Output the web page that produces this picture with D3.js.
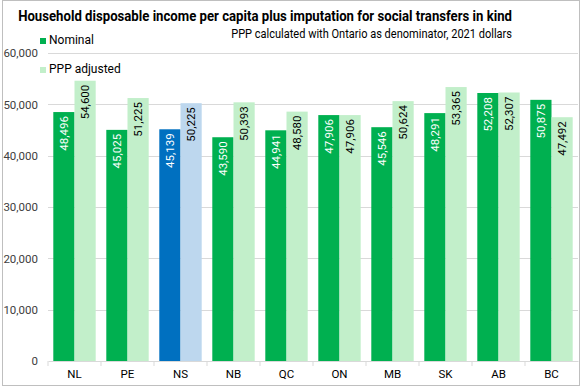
<!DOCTYPE html>
<html>
<head>
<meta charset="utf-8">
<script src="https://cdn.jsdelivr.net/npm/d3@7"></script>
<style>
  body { margin: 0; background: #fff; }
  svg { display: block; font-family: "Roboto", "Liberation Sans", sans-serif; }
</style>
</head>
<body>
<div id="chart"></div>
<script>
'use strict';

var provinces = ["NL", "PE", "NS", "NB", "QC", "ON", "MB", "SK", "AB", "BC"];
var nominal = [48496, 45025, 45139, 43590, 44941, 47906, 45546, 48291, 52208, 50875];
var pppAdjusted = [54600, 51225, 50225, 50393, 48580, 47906, 50624, 53365, 52307, 47492];
var seriesNames = ["Nominal", "PPP adjusted"];
var yTicks = [0, 10000, 20000, 30000, 40000, 50000, 60000];
var highlight = "NS";

var width = 581, height = 387;
var margin = {top: 53, right: 3, bottom: 26, left: 48};
var plotW = width - margin.left - margin.right;
var plotH = height - margin.top - margin.bottom;

var colors = {
    nominal: "#00b050", ppp: "#c2efca",
    nominalHi: "#0070c0", pppHi: "#bdd7ee"
};

var svg = d3.select("#chart").append("svg")
    .attr("width", width)
    .attr("height", height);

// chart border
svg.append("rect")
    .attr("x", 2.5).attr("y", 0.5)
    .attr("width", width - 4).attr("height", height - 2)
    .attr("fill", "#fff")
    .attr("stroke", "#bfbfbf");

// squeeze a text horizontally so it spans the width of the original
function fitText(sel, x, y, w) {
    var tw = sel.node().getComputedTextLength();
    var sx = Math.min(1, w / tw);
    sel.attr("transform", "translate(" + x + "," + y + ") scale(" + sx + ",1)");
}

var title = svg.append("text")
    .attr("text-anchor", "end")
    .attr("font-size", 15)
    .attr("font-weight", "bold")
    .attr("fill", "#000")
    .text("Household disposable income per capita plus imputation for social transfers in kind");
fitText(title, 512, 21, 494);

var subtitle = svg.append("text")
    .attr("text-anchor", "end")
    .attr("font-size", 12)
    .attr("fill", "#000")
    .text("PPP calculated with Ontario as denominator, 2021 dollars");
fitText(subtitle, 512, 38, 281);

var g = svg.append("g")
    .attr("transform", "translate(" + margin.left + "," + margin.top + ")");

var x = d3.scaleBand()
    .domain(provinces)
    .range([0, plotW])
    .paddingInner(0.2)
    .paddingOuter(0.1);

var x1 = d3.scaleBand()
    .domain(seriesNames)
    .range([0, x.bandwidth()]);

var y = d3.scaleLinear()
    .domain([0, 60000])
    .range([plotH, 0]);

// gridlines
g.append("g")
    .selectAll("line")
    .data(yTicks.slice(1))
    .join("line")
    .attr("x1", 0).attr("x2", plotW)
    .attr("y1", function(d) { return Math.round(y(d)) + 0.5; })
    .attr("y2", function(d) { return Math.round(y(d)) + 0.5; })
    .attr("stroke", "#d9d9d9");

var yAxis = g.append("g")
    .call(d3.axisLeft(y).tickValues(yTicks).tickFormat(d3.format(",")).tickSize(0).tickPadding(10));
yAxis.select(".domain").remove();
yAxis.selectAll("text")
    .attr("font-size", 11.5)
    .attr("fill", "#404040")
    .style("font-family", "Roboto, sans-serif");

var data = provinces.map(function(p, i) {
    return {prov: p, values: [
        {key: "Nominal", value: nominal[i]},
        {key: "PPP adjusted", value: pppAdjusted[i]}
    ]};
});

function barColor(prov, key) {
    if (prov === highlight) return key === "Nominal" ? colors.nominalHi : colors.pppHi;
    return key === "Nominal" ? colors.nominal : colors.ppp;
}

var groups = g.selectAll(".grp")
    .data(data)
    .join("g")
    .attr("class", "grp")
    .attr("transform", function(d) { return "translate(" + x(d.prov) + ",0)"; });

groups.selectAll("rect")
    .data(function(d) { return d.values.map(function(v) { return {prov: d.prov, key: v.key, value: v.value}; }); })
    .join("rect")
    .attr("x", function(d) { return x1(d.key); })
    .attr("y", function(d) { return y(d.value); })
    .attr("width", x1.bandwidth())
    .attr("height", function(d) { return plotH - y(d.value); })
    .attr("fill", function(d) { return barColor(d.prov, d.key); });

groups.selectAll("text.lbl")
    .data(function(d) { return d.values.map(function(v) { return {prov: d.prov, key: v.key, value: v.value}; }); })
    .join("text")
    .attr("class", "lbl")
    .attr("transform", function(d) {
        var cx = x1(d.key) + x1.bandwidth() / 2;
        return "translate(" + (cx + 4) + "," + (y(d.value) + 4) + ") rotate(-90)";
    })
    .attr("text-anchor", "end")
    .attr("font-size", 11.5)
    .attr("fill", function(d) { return d.key === "Nominal" ? "#fff" : "#000"; })
    .text(function(d) { return d3.format(",")(d.value); });

// x axis
var xAxis = g.append("g")
    .attr("transform", "translate(0," + plotH + ")")
    .call(d3.axisBottom(x).tickSize(0).tickPadding(9));
xAxis.select(".domain").attr("stroke", "#d9d9d9");
xAxis.selectAll("text")
    .attr("font-size", 11.5)
    .attr("fill", "#000")
    .style("font-family", "Roboto, sans-serif");

// category separators
g.append("g")
    .selectAll("line")
    .data(provinces)
    .join("line")
    .attr("x1", function(d) { return x(d) - x.step() * x.paddingInner() / 2; })
    .attr("x2", function(d) { return x(d) - x.step() * x.paddingInner() / 2; })
    .attr("y1", plotH).attr("y2", plotH + 5)
    .attr("stroke", "#d9d9d9");

// legend
var legend = svg.append("g")
    .attr("transform", "translate(40,38)");
var legendColors = [colors.nominal, colors.ppp];
var legendItems = legend.selectAll("g")
    .data(seriesNames)
    .join("g")
    .attr("transform", function(d, i) { return "translate(0," + (i * 29) + ")"; });
legendItems.append("rect")
    .attr("width", 6).attr("height", 6)
    .attr("fill", function(d, i) { return legendColors[i]; });
legendItems.append("text")
    .attr("x", 9).attr("y", 6)
    .attr("font-size", 12)
    .attr("fill", "#000")
    .text(function(d) { return d; });
</script>
</body>
</html>
